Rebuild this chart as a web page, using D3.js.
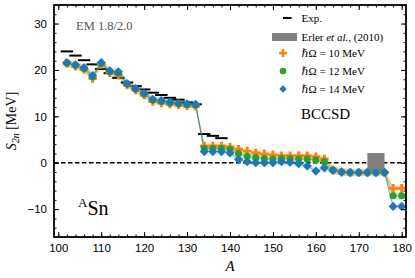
<!DOCTYPE html>
<html>
<head>
<meta charset="utf-8">
<script src="https://cdn.jsdelivr.net/npm/d3@7"></script>
<style>
  body { margin: 0; background: #fff; }
  svg { display: block; font-family: "Liberation Serif", "DejaVu Serif", serif; }
  .tick text { font-size: 11.5px; fill: #000; }
  .domain { stroke: none; }
</style>
</head>
<body>
<svg id="chart"></svg>
<script>
// mass numbers of the calculated isotopes
const massNumbers = [102, 104, 106, 108, 110, 112, 114, 116, 118, 120, 122, 124, 126, 128, 130, 132,
  134, 136, 138, 140, 142, 144, 146, 148, 150, 152, 154, 156, 158, 160, 162,
  164, 166, 168, 170, 172, 174, 176, 178, 180];

// BCCSD S2n for the three oscillator frequencies
const s2n10 = [21.4, 20.8, 20.1, 18.2, 21.2, 19.4, 18.9, 16.8, 15.7, 14.6, 13.2, 12.9, 12.7, 12.5, 12.3, 12.2,
  3.6, 3.6, 3.6, 3.4, 2.9, 2.5, 2.1, 1.9, 1.7, 1.5, 1.5, 1.5, 1.5, 1.3, 0.8,
  -1.6, -2.0, -2.1, -2.1, -2.1, -2.1, -2.1, -5.5, -5.5];
const s2n12 = [21.5, 21.0, 20.3, 18.5, 21.4, 19.6, 19.3, 17.0, 15.9, 14.8, 13.5, 13.2, 12.9, 12.7, 12.5, 12.4,
  3.1, 3.1, 3.1, 2.9, 2.0, 1.4, 1.1, 0.9, 0.8, 0.9, 0.9, 0.8, 0.8, 0.6, 0.2,
  -1.6, -2.0, -2.1, -2.1, -2.1, -2.1, -2.1, -7.1, -7.1];
const s2n14 = [21.6, 21.1, 20.5, 18.8, 21.6, 19.8, 19.6, 17.1, 16.0, 15.0, 13.7, 13.4, 13.1, 12.9, 12.7, 12.6,
  2.4, 2.4, 2.4, 2.1, 0.7, 0.2, 0.0, 0.0, 0.0, 0.2, 0.1, -0.2, -0.7, -1.8, -1.1,
  -1.6, -2.0, -2.1, -2.1, -2.1, -2.1, -2.1, -9.4, -9.4];

// experiment
const expMass = [102, 104, 106, 108, 110, 112, 114, 116, 118, 120, 122, 124, 126, 128, 130, 132, 134, 136, 138];
const expS2n = [24.0, 23.1, 22.1, 21.2, 20.2, 19.3, 18.3, 17.3, 16.5, 15.8, 15.1, 14.6, 14.0, 13.6, 13.0, 12.6, 6.2, 5.8, 5.3];

// Erler et al. (2010) drip line region
const erlerMass = [172, 176];
const erlerS2n = [-2.1, 2.1];

const bandHalfWidth = 0.8;
const xTicks = [100, 110, 120, 130, 140, 150, 160, 170, 180];
const yTicks = [-10, 0, 10, 20, 30];

const seriesNames = ["\u210F\u03A9 = 10 MeV", "\u210F\u03A9 = 12 MeV", "\u210F\u03A9 = 14 MeV"];
const seriesColors = ["#ff7f0e", "#2ca02c", "#1f77b4"];

var margin = {top: 5, right: 9, bottom: 41, left: 54},
  width = 415 - margin.left - margin.right,
  height = 278 - margin.top - margin.bottom;

var svg = d3.select("#chart")
  .attr("width", 415)
  .attr("height", 278);
var g = svg.append("g")
  .attr("transform", "translate(" + margin.left + "," + margin.top + ")");

var xScale = d3.scaleLinear().domain([99, 181]).range([0, width]);
var yScale = d3.scaleLinear().domain([-16, 34]).range([height, 0]);

// series objects
var series = [s2n10, s2n12, s2n14].map(function(vals, i) {
  return {
    name: seriesNames[i],
    color: seriesColors[i],
    points: massNumbers.map(function(a, j) { return {a: a, v: vals[j]}; })
  };
});

// zero line
g.append("line")
  .attr("x1", 0).attr("x2", width)
  .attr("y1", yScale(0)).attr("y2", yScale(0))
  .attr("stroke", "#000").attr("stroke-width", 1.3)
  .attr("stroke-dasharray", "4.5,2.5");

// Erler box
g.append("rect")
  .attr("x", xScale(erlerMass[0]))
  .attr("width", xScale(erlerMass[1]) - xScale(erlerMass[0]))
  .attr("y", yScale(erlerS2n[1]))
  .attr("height", yScale(erlerS2n[0]) - yScale(erlerS2n[1]))
  .attr("fill", "#808080");

// experiment dashes
g.selectAll(".exp").data(expMass)
  .enter().append("line")
  .attr("class", "exp")
  .attr("x1", function(d) { return xScale(d) - 6.2; })
  .attr("x2", function(d) { return xScale(d) + 6.2; })
  .attr("y1", function(d, i) { return yScale(expS2n[i]); })
  .attr("y2", function(d, i) { return yScale(expS2n[i]); })
  .attr("stroke", "#000").attr("stroke-width", 2);

// bands and lines
var band = d3.area()
  .x(function(d) { return xScale(d.a); })
  .y0(function(d) { return yScale(d.v - bandHalfWidth); })
  .y1(function(d) { return yScale(d.v + bandHalfWidth); });
var line = d3.line()
  .x(function(d) { return xScale(d.a); })
  .y(function(d) { return yScale(d.v); });

series.forEach(function(s) {
  g.append("path").datum(s.points)
    .attr("d", band)
    .attr("fill", s.color).attr("fill-opacity", 0.14);
});
series.forEach(function(s) {
  g.append("path").datum(s.points)
    .attr("d", line)
    .attr("fill", "none")
    .attr("stroke", s.color).attr("stroke-opacity", 0.55).attr("stroke-width", 1);
});

var symbols = [d3.symbol().type(d3.symbolCross).size(42),
  d3.symbol().type(d3.symbolCircle).size(40),
  d3.symbol().type(d3.symbolDiamond2).size(52)];

series.forEach(function(s, i) {
  g.selectAll(".pt" + i).data(s.points)
    .enter().append("path")
    .attr("class", "pt" + i)
    .attr("transform", function(d) { return "translate(" + xScale(d.a) + "," + yScale(d.v) + ")"; })
    .attr("d", symbols[i])
    .attr("fill", s.color);
});

// axes, ticks pointing inward on all four sides
function addAxis(axis, transform, labels) {
  var ag = g.append("g").attr("transform", transform).call(axis);
  ag.selectAll(".tick line").attr("stroke", "#000").attr("stroke-width", 1);
  if (!labels) ag.selectAll("text").remove();
  return ag;
}
var xMinor = d3.range(100, 181, 2);
var yMinor = d3.range(-16, 35, 2);

addAxis(d3.axisBottom(xScale).tickValues(xTicks).tickSize(-5).tickPadding(7).tickFormat(d3.format("d")),
  "translate(0," + height + ")", true);
addAxis(d3.axisBottom(xScale).tickValues(xMinor).tickSize(-2.5), "translate(0," + height + ")", false);
addAxis(d3.axisTop(xScale).tickValues(xTicks).tickSize(-5), "translate(0,0)", false);
addAxis(d3.axisTop(xScale).tickValues(xMinor).tickSize(-2.5), "translate(0,0)", false);

addAxis(d3.axisLeft(yScale).tickValues(yTicks).tickSize(-5).tickPadding(7)
  .tickFormat(function(d) { return d < 0 ? "\u2212" + Math.abs(d) : d; }), "translate(0,0)", true);
addAxis(d3.axisLeft(yScale).tickValues(yMinor).tickSize(-2.5), "translate(0,0)", false);
addAxis(d3.axisRight(yScale).tickValues(yTicks).tickSize(-5), "translate(" + width + ",0)", false);
addAxis(d3.axisRight(yScale).tickValues(yMinor).tickSize(-2.5), "translate(" + width + ",0)", false);

// frame
g.append("rect")
  .attr("width", width).attr("height", height)
  .attr("fill", "none").attr("stroke", "#000").attr("stroke-width", 1.8);

// axis labels
svg.append("text")
  .attr("x", margin.left + xScale(140)).attr("y", 271)
  .attr("text-anchor", "middle")
  .style("font-size", "15px").style("font-style", "italic")
  .text("A");

var yl = svg.append("text")
  .attr("transform", "translate(16," + (margin.top + height / 2) + ") rotate(-90)")
  .attr("text-anchor", "middle")
  .style("font-size", "14px");
yl.append("tspan").style("font-style", "italic").text("S");
yl.append("tspan").attr("dy", 3).style("font-size", "10px").style("font-style", "italic").text("2n");
yl.append("tspan").attr("dy", -3).text(" [MeV]");

// annotations
g.append("text")
  .attr("x", 22).attr("y", 25)
  .style("font-size", "12.5px").attr("fill", "#555")
  .text("EM 1.8/2.0");

var sn = g.append("text")
  .attr("x", 24).attr("y", 210)
  .style("font-size", "20px");
sn.append("tspan").attr("dy", -8).style("font-size", "13px").text("A");
sn.append("tspan").attr("dy", 8).text("Sn");

g.append("text")
  .attr("x", 247).attr("y", 114)
  .style("font-size", "15px")
  .text("BCCSD");

// legend
var legend = g.append("g").attr("transform", "translate(229,13)");
legend.append("line")
  .attr("x1", 0).attr("x2", 8.5).attr("y1", 0).attr("y2", 0)
  .attr("stroke", "#000").attr("stroke-width", 2);
legend.append("text").attr("x", 18.5).attr("y", 4).style("font-size", "11px").text("Exp.");

legend.append("rect")
  .attr("x", -11).attr("y", 15).attr("width", 25).attr("height", 8)
  .attr("fill", "#808080");
var erler = legend.append("text").attr("x", 18.5).attr("y", 23).style("font-size", "11px");
erler.append("tspan").text("Erler ");
erler.append("tspan").style("font-style", "italic").text("et al.");
erler.append("tspan").text(", (2010)");

series.forEach(function(s, i) {
  var yy = 35 + i * 18;
  legend.append("path")
    .attr("transform", "translate(" + 0 + "," + yy + ")")
    .attr("d", d3.symbol().type([d3.symbolCross, d3.symbolCircle, d3.symbolDiamond2][i]).size(34)())
    .attr("fill", s.color);
  legend.append("text").attr("x", 18.5).attr("y", yy + 4).style("font-size", "11px").text(s.name);
});
</script>
</body>
</html>
